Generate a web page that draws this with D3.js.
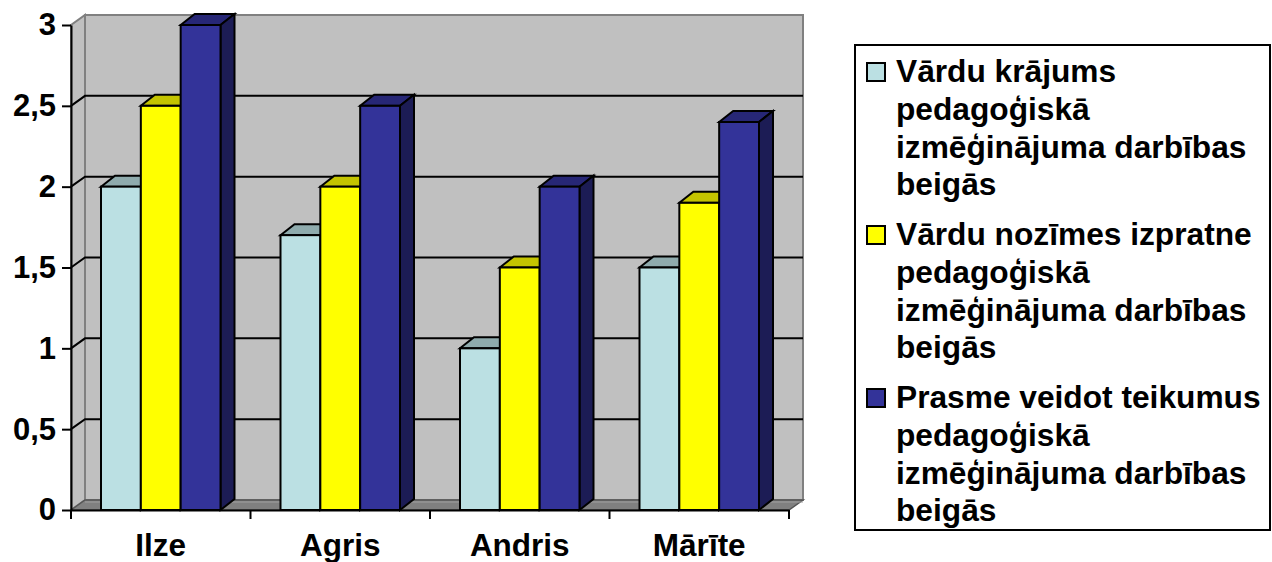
<!DOCTYPE html>
<html>
<head>
<meta charset="utf-8">
<script src="https://cdn.jsdelivr.net/npm/d3@7"></script>
<style>
body { margin: 0; background: #fff; overflow: hidden; }
text { font-family: "Liberation Sans", Arial, sans-serif; font-weight: bold; fill: #000; }
</style>
</head>
<body>
<svg id="chart" width="1272" height="562" style="display:block"></svg>
<script>
var categories = ['Ilze', 'Agris', 'Andris', 'Mārīte'];
var krajums = [2, 1.7, 1, 1.5];
var izpratne = [2.5, 2, 1.5, 1.9];
var teikumi = [3, 2.5, 2, 2.4];
var yTicks = [0, 0.5, 1, 1.5, 2, 2.5, 3];
var yLabels = ['0', '0,5', '1', '1,5', '2', '2,5', '3'];
var legendLines = [
  ['Vārdu krājums', 'pedagoģiskā', 'izmēģinājuma darbības', 'beigās'],
  ['Vārdu nozīmes izpratne', 'pedagoģiskā', 'izmēģinājuma darbības', 'beigās'],
  ['Prasme veidot teikumus', 'pedagoģiskā', 'izmēģinājuma darbības', 'beigās']
];
var seriesValues = [krajums, izpratne, teikumi];
var front = ['#BBE0E3', '#FFFF00', '#333399'];
var tops = ['#8FABAD', '#C4C400', '#272776'];
var sides = ['#6F8688', '#999900', '#1C1C55'];

var svg = d3.select('#chart');
var left = 71, right = 789, bottom = 510, topY = 25;
var wallDx = 14, wallDy = -10, barDx = 14, barDy = -11;

var y = d3.scaleLinear().domain([0, 3]).range([bottom, topY]);
var x = d3.scaleBand().domain(categories).range([left, right]);
var x1 = d3.scaleBand().domain(d3.range(3)).range([30, x.bandwidth() - 30]);

function pts(a) { return a.map(function(p) { return p.join(','); }).join(' '); }

// walls and floor
svg.append('polygon')
  .attr('points', pts([[left, bottom], [left + wallDx, bottom + wallDy], [left + wallDx, topY + wallDy], [left, topY]]))
  .attr('fill', '#C0C0C0').attr('stroke', '#808080').attr('stroke-width', 2);
svg.append('rect')
  .attr('x', left + wallDx).attr('y', topY + wallDy)
  .attr('width', right - left).attr('height', bottom - topY)
  .attr('fill', '#C0C0C0').attr('stroke', '#808080').attr('stroke-width', 2);
svg.append('polygon')
  .attr('points', pts([[left, bottom], [left + wallDx, bottom + wallDy], [right + wallDx, bottom + wallDy], [right, bottom]]))
  .attr('fill', '#808080').attr('stroke', '#555').attr('stroke-width', 1.5);
svg.append('line')
  .attr('x1', left + wallDx).attr('x2', right + wallDx)
  .attr('y1', bottom + wallDy + 2).attr('y2', bottom + wallDy + 2)
  .attr('stroke', '#A0A0A0').attr('stroke-width', 1);

// gridlines on the wall
yTicks.filter(function(d) { return d > 0 && d < 3; }).forEach(function(d) {
  svg.append('polyline')
    .attr('points', pts([[left, y(d)], [left + wallDx, y(d) + wallDy], [right + wallDx, y(d) + wallDy]]))
    .attr('fill', 'none').attr('stroke', '#000').attr('stroke-width', 2);
});

// bars
seriesValues.forEach(function(values, s) {
  var g = svg.append('g');
  values.forEach(function(v, i) {
    var x0 = x(categories[i]) + x1(s), x2 = x0 + x1.bandwidth();
    var y0 = y(v);
    g.append('polygon')
      .attr('points', pts([[x0, y0], [x0 + barDx, y0 + barDy], [x2 + barDx, y0 + barDy], [x2, y0]]))
      .attr('fill', tops[s]).attr('stroke', '#000').attr('stroke-width', 2);
    g.append('polygon')
      .attr('points', pts([[x2, y0], [x2 + barDx, y0 + barDy], [x2 + barDx, bottom + barDy], [x2, bottom]]))
      .attr('fill', sides[s]).attr('stroke', '#000').attr('stroke-width', 2);
    g.append('rect')
      .attr('x', x0).attr('y', y0)
      .attr('width', x1.bandwidth()).attr('height', bottom - y0)
      .attr('fill', front[s]).attr('stroke', '#000').attr('stroke-width', 2);
  });
});

// y axis
var yAxis = svg.append('g')
  .attr('transform', 'translate(' + left + ',0)')
  .call(d3.axisLeft(y).tickValues(yTicks).tickSize(9).tickSizeOuter(0).tickPadding(6)
    .tickFormat(function(d, i) { return yLabels[i]; }));
yAxis.select('.domain').attr('stroke', '#000').attr('stroke-width', 2);
yAxis.selectAll('line').attr('stroke', '#000').attr('stroke-width', 2);
yAxis.selectAll('text').style('font-size', '31px').style('font-family', '"Liberation Sans"').style('font-weight', 'bold');

// x axis: labels sit in the middle of the band, ticks on the band edges
var xAxis = svg.append('g')
  .attr('transform', 'translate(0,' + bottom + ')')
  .call(d3.axisBottom(x).tickSize(0).tickSizeOuter(0).tickPadding(24));
xAxis.select('.domain').attr('stroke', '#000').attr('stroke-width', 2);
xAxis.selectAll('text').style('font-size', '31.5px').style('font-family', '"Liberation Sans"').style('font-weight', 'bold');
categories.concat(['end']).forEach(function(c, i) {
  var tx = i < categories.length ? x(c) : right;
  xAxis.append('line').attr('x1', tx).attr('x2', tx).attr('y1', 0).attr('y2', 9)
    .attr('stroke', '#000').attr('stroke-width', 2);
});

// legend
svg.append('rect')
  .attr('x', 855).attr('y', 45).attr('width', 415).attr('height', 485)
  .attr('fill', '#fff').attr('stroke', '#000').attr('stroke-width', 2);
var lineH = 37.8, groupStep = 163;
legendLines.forEach(function(lines, s) {
  var yy = 82 + s * groupStep;
  svg.append('rect')
    .attr('x', 867).attr('y', yy - 19).attr('width', 18).attr('height', 18)
    .attr('fill', front[s]).attr('stroke', '#000').attr('stroke-width', 2);
  lines.forEach(function(t, k) {
    svg.append('text').attr('x', 896).attr('y', yy + k * lineH).style('font-size', '31.7px').text(t);
  });
});
</script>
</body>
</html>
